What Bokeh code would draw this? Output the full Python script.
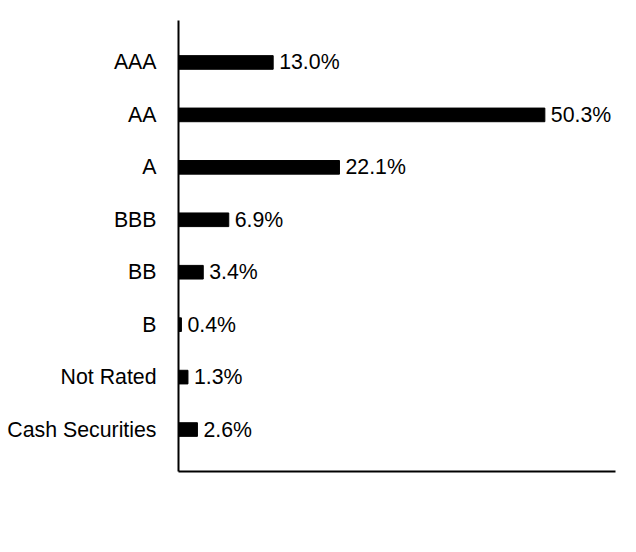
from bokeh.plotting import figure
from bokeh.models import ColumnDataSource, Range1d, FixedTicker
from bokeh.core.properties import value
from bokeh.embed import file_html
from bokeh.resources import INLINE

# Credit quality breakdown
ratings = ["AAA", "AA", "A", "BBB", "BB", "B", "Not Rated", "Cash Securities"]
weights = [13.0, 50.3, 22.1, 6.9, 3.4, 0.4, 1.3, 2.6]

pos = list(range(len(ratings) - 1, -1, -1))
labels = ["%.1f%%" % w for w in weights]
source = ColumnDataSource(data=dict(y=pos, w=weights, lab=labels))

p = figure(width=628, height=540, output_backend="svg", toolbar_location=None, tools="",
           x_range=Range1d(0, 60), y_range=Range1d(-0.8, len(ratings) - 0.2),
           min_border_left=178, min_border_right=13, min_border_top=20, min_border_bottom=69)

p.hbar(y="y", right="w", left=0, height=0.26, color="black", source=source)
p.text(x="w", y="y", text="lab", source=source, x_offset=6, text_baseline="middle",
       text_font=value("Liberation Sans"), text_font_size="21.3px", text_color="black")

p.outline_line_color = None
p.grid.grid_line_color = None

p.yaxis.ticker = FixedTicker(ticks=pos)
p.yaxis.major_label_overrides = {y: r for y, r in zip(pos, ratings)}
p.yaxis.major_label_text_font = "Liberation Sans"
p.yaxis.major_label_text_font_size = "21.3px"
p.yaxis.major_label_text_color = "black"
p.yaxis.major_label_standoff = 16
p.yaxis.major_tick_line_color = None
p.yaxis.minor_tick_line_color = None
p.yaxis.axis_line_width = 2
p.yaxis.axis_line_color = "black"

p.xaxis.ticker = FixedTicker(ticks=[])
p.xaxis.major_tick_line_color = None
p.xaxis.minor_tick_line_color = None
p.xaxis.major_label_text_font_size = "0px"
p.xaxis.axis_line_width = 2
p.xaxis.axis_line_color = "black"

open("out.html", "w").write(file_html(p, INLINE))
